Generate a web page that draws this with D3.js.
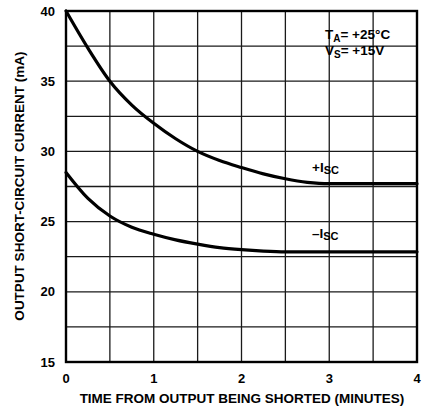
<!DOCTYPE html>
<html>
<head>
<meta charset="utf-8">
<style>
  body { margin: 0; background: #fff; }
  text { font-family: "Liberation Sans", Arial, Helvetica, sans-serif; font-weight: bold; fill: #000; }
</style>
<script src="https://d3js.org/d3.v7.min.js"></script>
</head>
<body>
<script>
// data
var timeMin = [0, 0.25, 0.5, 0.75, 1, 1.25, 1.5, 1.75, 2, 2.25, 2.5, 2.75, 3, 3.5, 4];
var plusIsc = [40, 37.35, 35.0, 33.3, 32.0, 30.9, 30.0, 29.35, 28.85, 28.4, 28.05, 27.8, 27.7, 27.7, 27.7];
var minusIsc = [28.5, 26.65, 25.4, 24.6, 24.1, 23.7, 23.4, 23.15, 23.0, 22.9, 22.85, 22.85, 22.85, 22.85, 22.85];
var xTicks = [0, 1, 2, 3, 4];
var yTicks = [15, 20, 25, 30, 35, 40];

var W = 422, H = 410;
var plotL = 66, plotR = 417, plotT = 11, plotB = 362;

var svg = d3.select("body").append("svg")
    .attr("width", W)
    .attr("height", H);

var x = d3.scaleLinear().domain([0, 4]).range([plotL, plotR]);
var y = d3.scaleLinear().domain([15, 40]).range([plotB, plotT]);

// grid every 0.5 min and 2.5 mA
var grid = svg.append("g").attr("stroke", "#1a1a1a").attr("stroke-width", 1.3);
grid.selectAll("line.v")
    .data(d3.range(0.5, 4, 0.5))
  .enter().append("line")
    .attr("x1", d => x(d)).attr("x2", d => x(d))
    .attr("y1", plotT).attr("y2", plotB);
grid.selectAll("line.h")
    .data(d3.range(17.5, 40, 2.5))
  .enter().append("line")
    .attr("x1", plotL).attr("x2", plotR)
    .attr("y1", d => y(d)).attr("y2", d => y(d));

// frame
svg.append("rect")
    .attr("x", plotL).attr("y", plotT)
    .attr("width", plotR - plotL).attr("height", plotB - plotT)
    .attr("fill", "none")
    .attr("stroke", "#000")
    .attr("stroke-width", 2.4);

// tick labels
svg.append("g").selectAll("text")
    .data(yTicks)
  .enter().append("text")
    .attr("x", 55)
    .attr("y", d => y(d))
    .attr("dy", "0.36em")
    .attr("text-anchor", "end")
    .attr("font-size", 13)
    .text(d => d);

svg.append("g").selectAll("text")
    .data(xTicks)
  .enter().append("text")
    .attr("x", d => x(d))
    .attr("y", 383)
    .attr("text-anchor", "middle")
    .attr("font-size", 13)
    .text(d => d);

// axis titles
svg.append("text")
    .attr("x", 242)
    .attr("y", 403)
    .attr("text-anchor", "middle")
    .attr("font-size", 13.5)
    .text("TIME FROM OUTPUT BEING SHORTED (MINUTES)");

svg.append("text")
    .attr("transform", "translate(24,186) rotate(-90)")
    .attr("text-anchor", "middle")
    .attr("font-size", 13.5)
    .text("OUTPUT SHORT-CIRCUIT CURRENT (mA)");

// curves
var line = d3.line()
    .x((d, i) => x(timeMin[i]))
    .y(d => y(d))
    .curve(d3.curveMonotoneX);

[plusIsc, minusIsc].forEach(function(s) {
  svg.append("path")
      .attr("d", line(s))
      .attr("fill", "none")
      .attr("stroke", "#000")
      .attr("stroke-width", 3.2)
      .attr("stroke-linecap", "round");
});

// conditions
var cond = svg.append("text").attr("font-size", 13.5);
cond.append("tspan").attr("x", 325).attr("y", 39).text("T");
cond.append("tspan").attr("dy", 3).attr("font-size", 10).text("A");
cond.append("tspan").attr("dy", -3).text("= +25°C");
var cond2 = svg.append("text").attr("font-size", 13.5);
cond2.append("tspan").attr("x", 325).attr("y", 55).text("V");
cond2.append("tspan").attr("dy", 3).attr("font-size", 10).text("S");
cond2.append("tspan").attr("dy", -3).text("= +15V");

// curve labels
function iscLabel(sign, yy) {
  var t = svg.append("text").attr("font-size", 13.5);
  t.append("tspan").attr("x", 312).attr("y", yy).text(sign + "I");
  t.append("tspan").attr("dy", 2).attr("font-size", 11).text("SC");
}
iscLabel("+", 172);
iscLabel("\u2013", 238);
</script>
</body>
</html>
